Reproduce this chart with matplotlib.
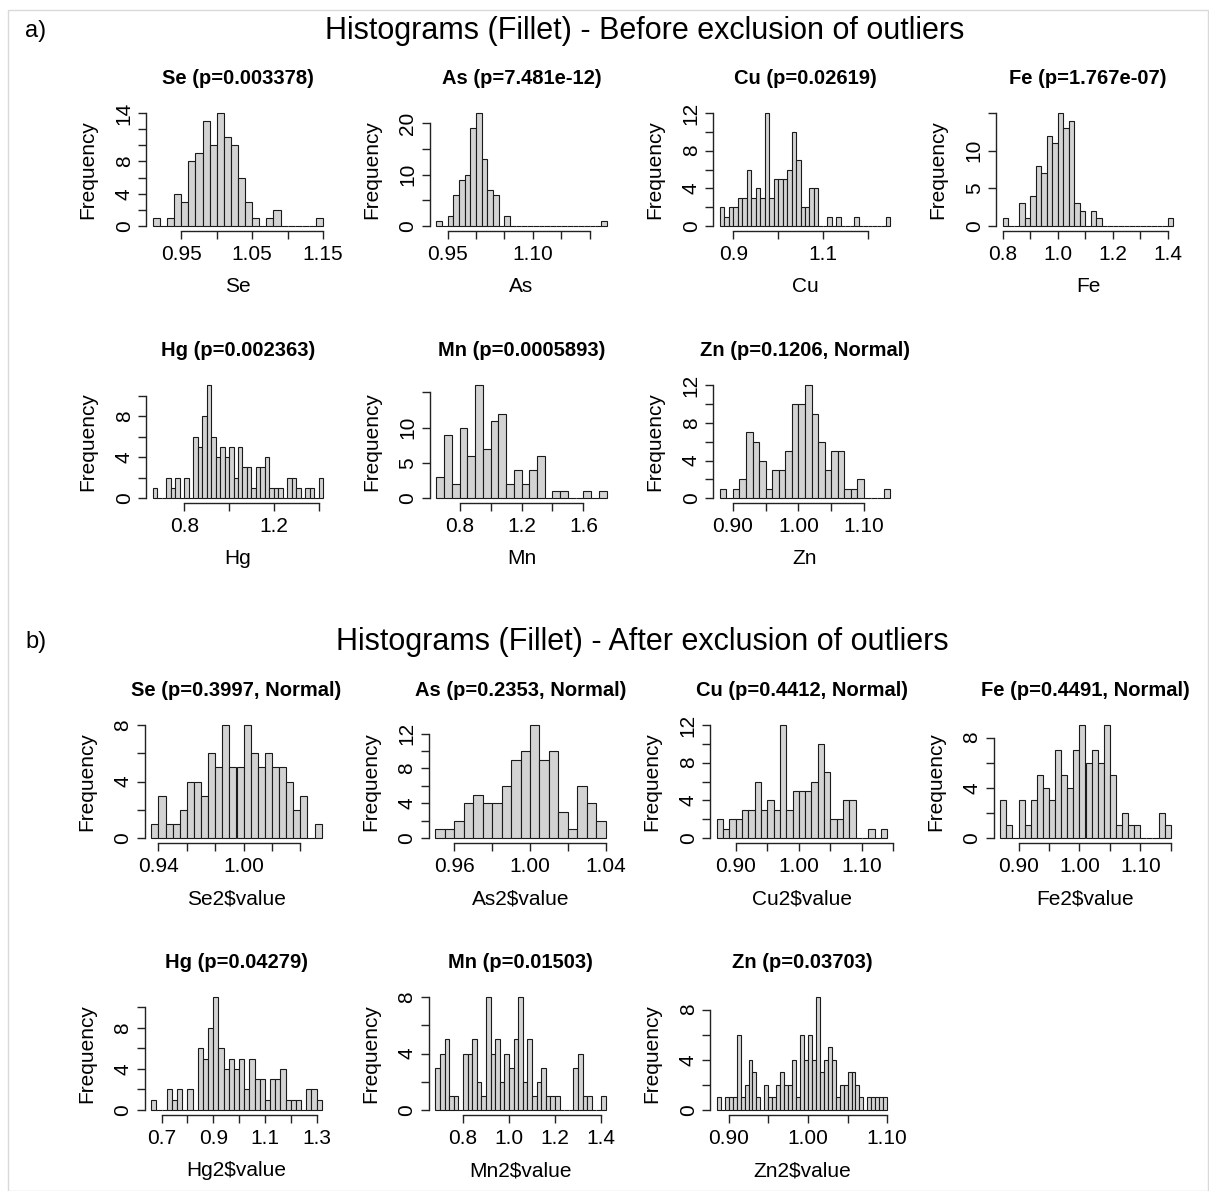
#!/usr/bin/env python3
"""
Histograms of fillet element ratios, before and after outlier exclusion
"""

import matplotlib
matplotlib.use('Agg')
import matplotlib.pyplot as plt
import numpy as np

plt.rcParams['font.family'] = ['Liberation Sans', 'DejaVu Sans']

##################################################################
# a) before exclusion of outliers

before_titles = ['Se (p=0.003378)', 'As (p=7.481e-12)', 'Cu (p=0.02619)',
                 'Fe (p=1.767e-07)', 'Hg (p=0.002363)', 'Mn (p=0.0005893)',
                 'Zn (p=0.1206, Normal)']
before_xlabels = ['Se', 'As', 'Cu', 'Fe', 'Hg', 'Mn', 'Zn']

# first break and bin width of every histogram
before_start = [0.91, 0.93, 0.87, 0.80, 0.66, 0.65, 0.88]
before_width = [0.01, 0.01, 0.01, 0.02, 0.02, 0.05, 0.01]

se_before = [1, 0, 1, 4, 3, 8, 9, 13, 10, 14, 11, 10, 6, 3, 1, 0, 1, 2,
             0, 0, 0, 0, 0, 1]
as_before = [1, 0, 2, 6, 9, 10, 19, 22, 13, 7, 6, 0, 2,
             0, 0, 0, 0, 0, 0, 0, 0, 0, 0, 0, 0, 0, 0, 0, 0, 1]
cu_before = [2, 1, 2, 2, 3, 3, 6, 3, 4, 3, 12, 3, 5, 5, 5, 6, 10, 7, 2, 2,
             4, 4, 0, 0, 1, 0, 1, 0, 0, 0, 1, 0, 0, 0, 0, 0, 0, 1]
fe_before = [1, 0, 0, 3, 1, 4, 8, 7, 12, 11, 15, 13, 14, 3, 2, 0, 2, 1,
             0, 0, 0, 0, 0, 0, 0, 0, 0, 0, 0, 0, 1]
hg_before = [1, 0, 0, 2, 1, 2, 0, 2, 0, 6, 5, 8, 11, 6, 4, 5, 4, 5, 2, 5,
             3, 3, 1, 3, 3, 4, 1, 1, 1, 0, 2, 2, 1, 0, 1, 1, 0, 2]
mn_before = [3, 9, 2, 10, 6, 16, 7, 11, 12, 2, 4, 2, 4, 6, 0, 1, 1, 0, 0,
             1, 0, 1]
zn_before = [1, 0, 1, 2, 7, 6, 4, 1, 3, 3, 5, 10, 10, 12, 9, 6, 3, 5, 5,
             1, 1, 2, 0, 0, 0, 1]

before_xticks = [[0.95, 1.00, 1.05, 1.10, 1.15],
                 [0.95, 1.00, 1.05, 1.10, 1.15, 1.20],
                 [0.9, 1.0, 1.1, 1.2],
                 [0.8, 0.9, 1.0, 1.1, 1.2, 1.3, 1.4],
                 [0.8, 1.0, 1.2, 1.4],
                 [0.8, 1.0, 1.2, 1.4, 1.6],
                 [0.90, 0.95, 1.00, 1.05, 1.10]]
before_xticklabels = [['0.95', '', '1.05', '', '1.15'],
                      ['0.95', '', '', '1.10', '', ''],
                      ['0.9', '', '1.1', ''],
                      ['0.8', '', '1.0', '', '1.2', '', '1.4'],
                      ['0.8', '', '1.2', ''],
                      ['0.8', '', '1.2', '', '1.6'],
                      ['0.90', '', '1.00', '', '1.10']]
before_yticks = [[0, 2, 4, 6, 8, 10, 12, 14],
                 [0, 5, 10, 15, 20],
                 [0, 2, 4, 6, 8, 10, 12],
                 [0, 5, 10, 15],
                 [0, 2, 4, 6, 8, 10],
                 [0, 5, 10, 15],
                 [0, 2, 4, 6, 8, 10, 12]]
before_yticklabels = [['0', '', '4', '', '8', '', '', '14'],
                      ['0', '', '10', '', '20'],
                      ['0', '', '4', '', '8', '', '12'],
                      ['0', '5', '10', ''],
                      ['0', '', '4', '', '8', ''],
                      ['0', '5', '10', ''],
                      ['0', '', '4', '', '8', '', '12']]

##################################################################
# b) after exclusion of outliers

after_titles = ['Se (p=0.3997, Normal)', 'As (p=0.2353, Normal)',
                'Cu (p=0.4412, Normal)', 'Fe (p=0.4491, Normal)',
                'Hg (p=0.04279)', 'Mn (p=0.01503)', 'Zn (p=0.03703)']
after_xlabels = ['Se2$value', 'As2$value', 'Cu2$value', 'Fe2$value',
                 'Hg2$value', 'Mn2$value', 'Zn2$value']

after_start = [0.935, 0.95, 0.87, 0.87, 0.66, 0.68, 0.885]
after_width = [0.005, 0.005, 0.01, 0.01, 0.02, 0.02, 0.005]

se_after = [1, 3, 1, 1, 2, 4, 4, 3, 6, 5, 8, 5, 5, 8, 6, 5, 6, 5, 5, 4,
            2, 3, 0, 1]
as_after = [1, 1, 2, 4, 5, 4, 4, 6, 9, 10, 13, 9, 10, 3, 1, 6, 4, 2]
cu_after = [2, 1, 2, 2, 3, 3, 6, 3, 4, 3, 12, 3, 5, 5, 5, 6, 10, 7, 2, 2,
            4, 4, 0, 0, 1, 0, 1]
fe_after = [3, 1, 0, 3, 1, 3, 5, 4, 3, 7, 5, 4, 7, 9, 6, 7, 6, 9, 5, 1,
            2, 1, 1, 0, 0, 0, 2, 1]
hg_after = [1, 0, 0, 2, 1, 2, 0, 2, 0, 6, 5, 8, 11, 6, 4, 5, 4, 5, 2, 5,
            3, 3, 1, 3, 3, 4, 1, 1, 1, 0, 2, 2, 1]
mn_after = [3, 4, 5, 1, 1, 0, 4, 4, 5, 2, 1, 8, 4, 5, 2, 4, 3, 5, 8, 2,
            5, 1, 2, 3, 1, 1, 1, 0, 0, 0, 3, 4, 1, 1, 0, 0, 1]
zn_after = [1, 0, 1, 1, 1, 6, 1, 2, 4, 3, 1, 0, 2, 1, 1, 2, 3, 2, 2, 4,
            1, 6, 4, 6, 4, 9, 3, 4, 5, 4, 1, 2, 2, 3, 3, 2, 1, 0, 1, 1,
            1, 1, 1]

after_xticks = [[0.94, 0.96, 0.98, 1.00, 1.02, 1.04],
                [0.96, 0.98, 1.00, 1.02, 1.04],
                [0.90, 0.95, 1.00, 1.05, 1.10, 1.15],
                [0.90, 0.95, 1.00, 1.05, 1.10, 1.15],
                [0.7, 0.8, 0.9, 1.0, 1.1, 1.2, 1.3],
                [0.8, 1.0, 1.2, 1.4],
                [0.90, 0.95, 1.00, 1.05, 1.10]]
after_xticklabels = [['0.94', '', '', '1.00', '', ''],
                     ['0.96', '', '1.00', '', '1.04'],
                     ['0.90', '', '1.00', '', '1.10', ''],
                     ['0.90', '', '1.00', '', '1.10', ''],
                     ['0.7', '', '0.9', '', '1.1', '', '1.3'],
                     ['0.8', '1.0', '1.2', '1.4'],
                     ['0.90', '', '1.00', '', '1.10']]
after_yticks = [[0, 2, 4, 6, 8],
                [0, 2, 4, 6, 8, 10, 12],
                [0, 2, 4, 6, 8, 10, 12],
                [0, 2, 4, 6, 8],
                [0, 2, 4, 6, 8, 10],
                [0, 2, 4, 6, 8],
                [0, 2, 4, 6, 8]]
after_yticklabels = [['0', '', '4', '', '8'],
                     ['0', '', '4', '', '8', '', '12'],
                     ['0', '', '4', '', '8', '', '12'],
                     ['0', '', '4', '', '8'],
                     ['0', '', '4', '', '8', ''],
                     ['0', '', '4', '', '8'],
                     ['0', '', '4', '', '8']]

before_counts = [se_before, as_before, cu_before, fe_before,
                 hg_before, mn_before, zn_before]
after_counts = [se_after, as_after, cu_after, fe_after,
                hg_after, mn_after, zn_after]

##################################################################

W, H = 1209, 1191
PLOT_W, PLOT_H = 184, 122
BAR_COLOR = '#d3d3d3'


def draw_hist(fig, left, top, counts, start, width, title, xlabel,
              xticks, xticklabels, yticks, yticklabels):
    """
    Draw one R-like histogram whose plot region has its top left corner
    at (left, top) pixels
    """
    ax = fig.add_axes([left / W, 1 - (top + PLOT_H) / H, PLOT_W / W, PLOT_H / H])
    counts = np.asarray(counts)
    edges = start + width * np.arange(len(counts) + 1)
    ax.bar(edges[:-1], counts, width=width, align='edge', color=BAR_COLOR,
           edgecolor='#1a1a1a', linewidth=0.8)
    lo, hi = edges[0], edges[-1]
    span = hi - lo
    ymax = counts.max()
    ax.set_xlim(lo - 0.04 * span, hi + 0.04 * span)
    ax.set_ylim(-0.04 * ymax, 1.04 * ymax)

    for side in ['top', 'right']:
        ax.spines[side].set_visible(False)
    ax.spines['left'].set_bounds(yticks[0], yticks[-1])
    ax.spines['bottom'].set_bounds(xticks[0], xticks[-1])
    for side in ['left', 'bottom']:
        ax.spines[side].set_linewidth(1.0)
        ax.spines[side].set_color('#222222')

    ax.set_xticks(xticks)
    ax.set_xticklabels(xticklabels)
    ax.set_yticks(yticks)
    ax.set_yticklabels(yticklabels, va='center')
    ax.tick_params(axis='both', direction='out', length=5.8, width=1.0,
                   color='#222222', labelsize=15)
    ax.tick_params(axis='x', pad=4.5)
    ax.tick_params(axis='y', pad=3, labelrotation=90)

    cx = left + PLOT_W / 2
    fig.text(cx / W, 1 - (top - 30) / H, title, ha='center', va='center',
             fontsize=14.5, fontweight='bold')
    fig.text(cx / W, 1 - (top + 178) / H, xlabel, ha='center', va='center',
             fontsize=15)
    fig.text((left - 58) / W, 1 - (top + PLOT_H / 2) / H, 'Frequency',
             ha='center', va='center', rotation=90, fontsize=15)
    return ax


fig = plt.figure(figsize=(W / 100, H / 100), dpi=100)

# thin frame round the composite picture
fig.patches.append(plt.Rectangle((8 / W, 0), 1 - 9 / W, 1 - 10 / H,
                                 transform=fig.transFigure, fill=False,
                                 edgecolor='#d9d9d9', linewidth=1.0))

top_lefts = [146, 429.5, 713, 996]
bottom_lefts = [144.5, 428.5, 710, 993.5]
row_tops = [108.5, 380.8, 720.5, 992.5]

for i in range(7):
    r, c = divmod(i, 4)
    draw_hist(fig, top_lefts[c], row_tops[r], before_counts[i],
              before_start[i], before_width[i], before_titles[i],
              before_xlabels[i], before_xticks[i], before_xticklabels[i],
              before_yticks[i], before_yticklabels[i])
    draw_hist(fig, bottom_lefts[c], row_tops[r + 2], after_counts[i],
              after_start[i], after_width[i], after_titles[i],
              after_xlabels[i], after_xticks[i], after_xticklabels[i],
              after_yticks[i], after_yticklabels[i])

fig.text(645 / W, 1 - 31 / H, 'Histograms (Fillet) - Before exclusion of outliers',
         ha='center', va='center', fontsize=22)
fig.text(642 / W, 1 - 642 / H, 'Histograms (Fillet) - After exclusion of outliers',
         ha='center', va='center', fontsize=22)
fig.text(25 / W, 1 - 31 / H, 'a)', ha='left', va='center', fontsize=17)
fig.text(25 / W, 1 - 642 / H, 'b)', ha='left', va='center', fontsize=17)

fig.savefig('out.png', dpi=100)
